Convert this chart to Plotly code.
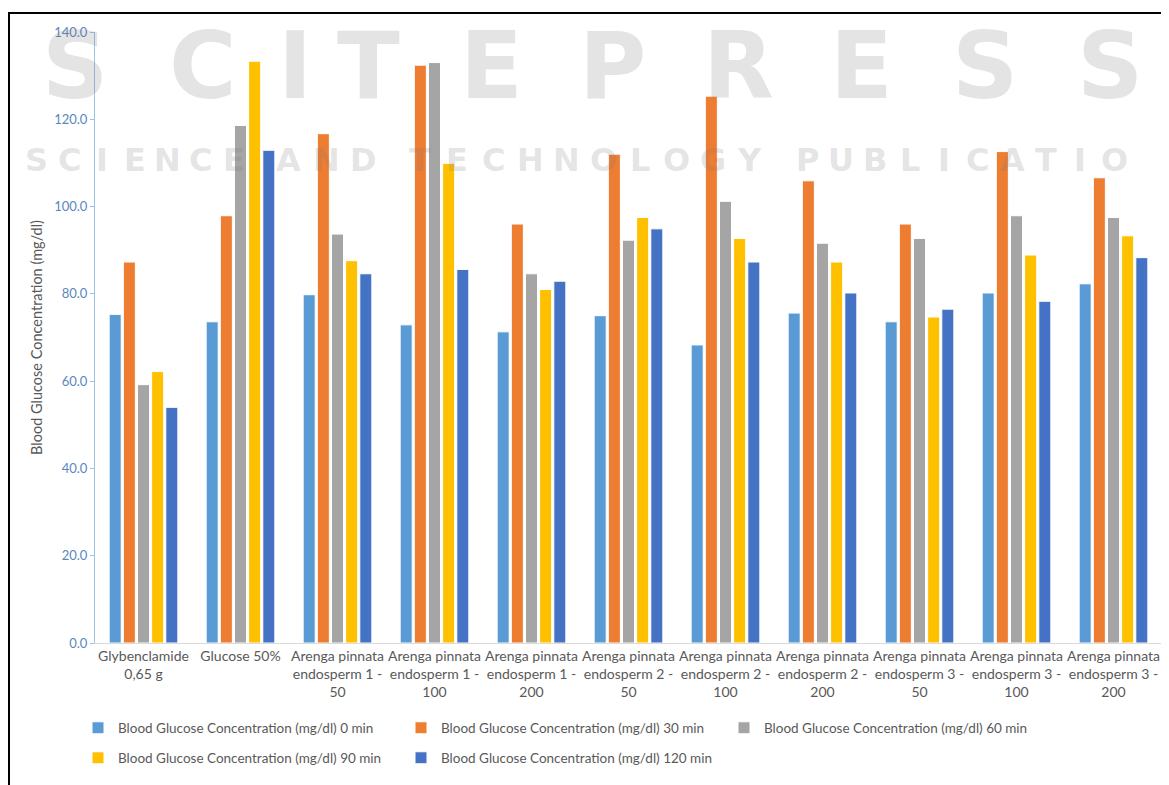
import plotly.graph_objects as go

categories = [
    "Glybenclamide<br>0,65 g",
    "Glucose 50%",
    "Arenga pinnata<br>endosperm 1 -<br>50",
    "Arenga pinnata<br>endosperm 1 -<br>100",
    "Arenga pinnata<br>endosperm 1 -<br>200",
    "Arenga pinnata<br>endosperm 2 -<br>50",
    "Arenga pinnata<br>endosperm 2 -<br>100",
    "Arenga pinnata<br>endosperm 2 -<br>200",
    "Arenga pinnata<br>endosperm 3 -<br>50",
    "Arenga pinnata<br>endosperm 3 -<br>100",
    "Arenga pinnata<br>endosperm 3 -<br>200",
]

min0 = [75.3, 73.6, 79.8, 72.9, 71.3, 75.0, 68.3, 75.6, 73.6, 80.2, 82.3]
min30 = [87.3, 97.9, 116.7, 132.4, 96.0, 112.0, 125.3, 105.9, 96.0, 112.6, 106.6]
min60 = [59.2, 118.6, 93.7, 133.0, 84.6, 92.3, 101.2, 91.6, 92.7, 97.9, 97.5]
min90 = [62.2, 133.3, 87.6, 109.9, 81.0, 97.5, 92.7, 87.3, 74.7, 88.9, 93.3]
min120 = [54.0, 112.9, 84.6, 85.6, 82.9, 94.9, 87.3, 80.2, 76.5, 78.3, 88.3]

series_names = [
    "Blood Glucose Concentration (mg/dl) 0 min",
    "Blood Glucose Concentration (mg/dl) 30 min",
    "Blood Glucose Concentration (mg/dl) 60 min",
    "Blood Glucose Concentration (mg/dl) 90 min",
    "Blood Glucose Concentration (mg/dl) 120 min",
]
series_values = [min0, min30, min60, min90, min120]
colors = ["#5B9BD5", "#ED7D31", "#A5A5A5", "#FFC000", "#4472C4"]
legend_ids = ["legend", "legend", "legend", "legend2", "legend2"]

FONT = "Lato"

# page has an 8px body margin: work in page coordinates, convert to figure coords
OFF = 8
W, H = 1169 - OFF, 785 - OFF
L, R, T, B = 87, 7, 24, 142
pw, ph = W - L - R, H - T - B


def to_paper(px, py):
    fx, fy = px - OFF, py - OFF
    return (fx - L) / pw, (H - B - fy) / ph


fig = go.Figure()
for name, vals, col, lg in zip(series_names, series_values, colors, legend_ids):
    fig.add_trace(go.Bar(
        x=categories, y=vals, name=name, legend=lg,
        marker=dict(color=col, line=dict(color="white", width=1)),
    ))

# watermark
WM = "rgba(120,120,120,0.2)"
final_ann = []
big = "SCITEPRESS"
big_x = [75, 203, 295, 368, 491, 612, 738, 861, 985, 1110]
for ch, px in zip(big, big_x):
    x, y = to_paper(px, 66)
    final_ann.append(dict(
        x=x, y=y, xref="paper", yref="paper", text="<b>" + ch + "</b>", showarrow=False,
        xanchor="center", yanchor="middle",
        font=dict(family="DejaVu Sans", size=92, color=WM),
    ))

words = [("SCIENCE", 20, 250), ("AND", 270, 382), ("TECHNOLOGY", 402, 768), ("PUBLICATIONS", 790, 1200)]
for w, a, b in words:
    step = (b - a) / len(w)
    for i, ch in enumerate(w):
        px = a + step * (i + 0.5)
        if px > 1145:
            continue
        x, y = to_paper(px, 160)
        final_ann.append(dict(
            x=x, y=y, xref="paper", yref="paper", text="<b>" + ch + "</b>", showarrow=False,
            xanchor="center", yanchor="middle",
            font=dict(family="DejaVu Sans", size=32, color=WM),
        ))

x0, y0 = to_paper(9, 800)
x1, y1 = to_paper(1175, 13)

lx, ly1 = to_paper(78, 728)
_, ly2 = to_paper(78, 758)

legend_common = dict(
    orientation="h", xanchor="left", yanchor="middle",
    entrywidth=278, entrywidthmode="pixels", itemwidth=30,
    font=dict(family=FONT, size=13.5, color="#595959"),
    traceorder="normal", bgcolor="rgba(0,0,0,0)",
)

fig.update_layout(
    width=W, height=H,
    margin=dict(l=L, r=R, t=T, b=B, autoexpand=False),
    paper_bgcolor="white", plot_bgcolor="white",
    font=dict(family=FONT, color="#595959", size=12),
    barmode="group", bargap=0.27, bargroupgap=0.15,
    annotations=final_ann,
    shapes=[dict(type="rect", xref="paper", yref="paper", x0=x0, y0=y0, x1=x1, y1=y1,
                 line=dict(color="black", width=2), fillcolor="rgba(0,0,0,0)")],
    legend=dict(x=lx, y=ly1, **legend_common),
    legend2=dict(x=lx, y=ly2, **legend_common),
    xaxis=dict(
        showgrid=False, showline=True, linecolor="#D9D9D9", linewidth=1,
        ticks="", tickfont=dict(family=FONT, size=14, color="#595959"),
        range=[-0.5, 10.5], automargin=False,
    ),
    yaxis=dict(
        range=[0, 140], dtick=20, tickformat=".1f", showgrid=False,
        showline=True, linecolor="#9DC3E6", linewidth=1,
        ticks="outside", ticklen=4, tickcolor="#9DC3E6",
        tickfont=dict(family=FONT, size=13, color="#5A87C0"),
        title=dict(text="Blood Glucose Concentration (mg/dl)",
                   font=dict(family=FONT, size=14.5, color="#595959"), standoff=8),
        zeroline=False, automargin=False,
    ),
)

fig.write_html("out.html")
